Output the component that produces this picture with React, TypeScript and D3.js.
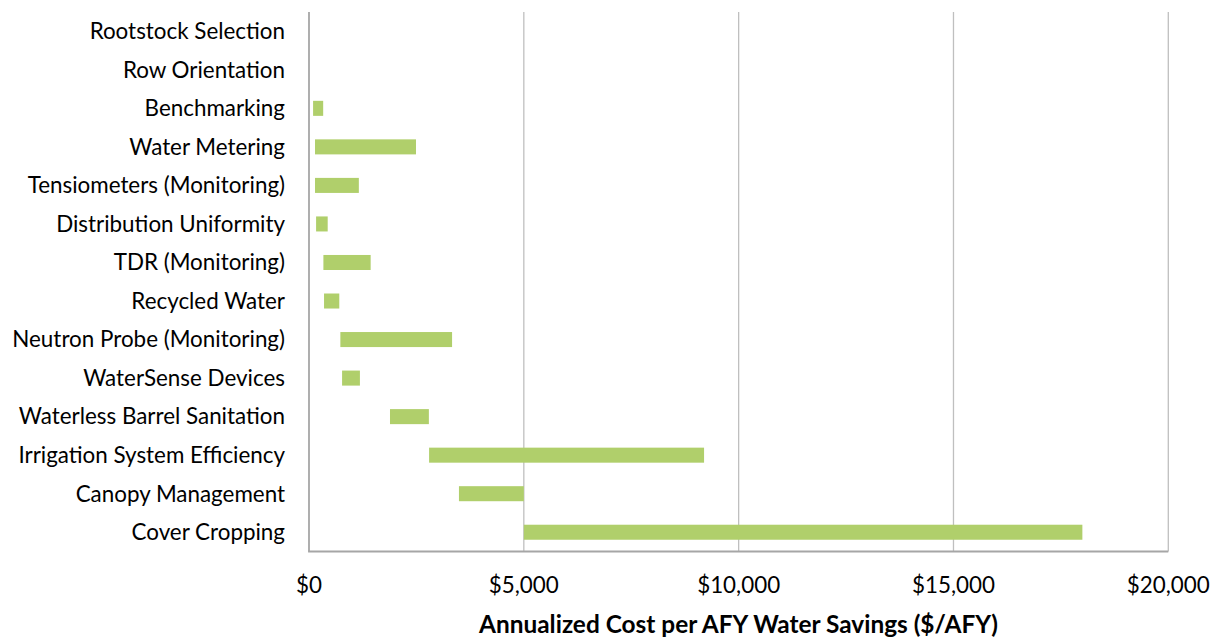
import React from "react";
import * as d3 from "d3";

const categories = [
  "Rootstock Selection",
  "Row Orientation",
  "Benchmarking",
  "Water Metering",
  "Tensiometers (Monitoring)",
  "Distribution Uniformity",
  "TDR (Monitoring)",
  "Recycled Water",
  "Neutron Probe (Monitoring)",
  "WaterSense Devices",
  "Waterless Barrel Sanitation",
  "Irrigation System Efficiency",
  "Canopy Management",
  "Cover Cropping",
];
const lowValues = [0, 0, 95, 140, 140, 165, 335, 350, 730, 770, 1885, 2795, 3490, 5000];
const highValues = [0, 0, 330, 2490, 1160, 435, 1435, 705, 3330, 1185, 2790, 9195, 5000, 18000];
const xTicks = [0, 5000, 10000, 15000, 20000];
const xTitle = "Annualized Cost per AFY Water Savings ($/AFY)";

const W = 1218;
const H = 641;
const margin = { left: 309, right: 50, top: 12, bottom: 90 };

export default function App() {
  const x = d3.scaleLinear().domain([0, 20000]).range([margin.left, 1168.3]);
  const y = d3
    .scaleBand<string>()
    .domain(categories)
    .range([margin.top, 551.5])
    .paddingInner(0.61)
    .paddingOuter(0.305);
  const fmt = (v: number) => "$" + d3.format(",")(v);
  const font = "Lato, 'Open Sans', sans-serif";
  const bottom = 551.5;
  return (
    <svg
      width={W}
      height={H}
      style={{ position: "absolute", left: 0, top: 0, background: "#fff" }}
      fontFamily={font}
    >
      {xTicks.slice(1).map((t) => (
        <line key={t} x1={x(t)} x2={x(t)} y1={margin.top} y2={bottom} stroke="#bfbfbf" strokeWidth={1.3} />
      ))}
      {categories.map((c, i) =>
        highValues[i] > lowValues[i] ? (
          <rect
            key={c}
            x={x(lowValues[i])}
            y={y(c)}
            width={x(highValues[i]) - x(lowValues[i])}
            height={y.bandwidth()}
            fill="#b0cf6b"
          />
        ) : null
      )}
      <line x1={x(0)} x2={x(0)} y1={margin.top} y2={bottom} stroke="#a6a6a6" strokeWidth={1.8} />
      <line x1={x(0) - 0.9} x2={x(20000)} y1={bottom} y2={bottom} stroke="#a6a6a6" strokeWidth={1.8} />
      {categories.map((c) => (
        <text
          key={c}
          x={285}
          y={(y(c) as number) + y.bandwidth() / 2}
          dy="0.35em"
          textAnchor="end"
          fontSize={22.4}
          fill="#000"
        >
          {c}
        </text>
      ))}
      {xTicks.map((t) => (
        <text key={t} x={x(t)} y={593} textAnchor="middle" fontSize={22.4} fill="#000">
          {fmt(t)}
        </text>
      ))}
      <text x={738.5} y={633} textAnchor="middle" fontSize={24.4} fontWeight="bold" fill="#000">
        {xTitle}
      </text>
    </svg>
  );
}
